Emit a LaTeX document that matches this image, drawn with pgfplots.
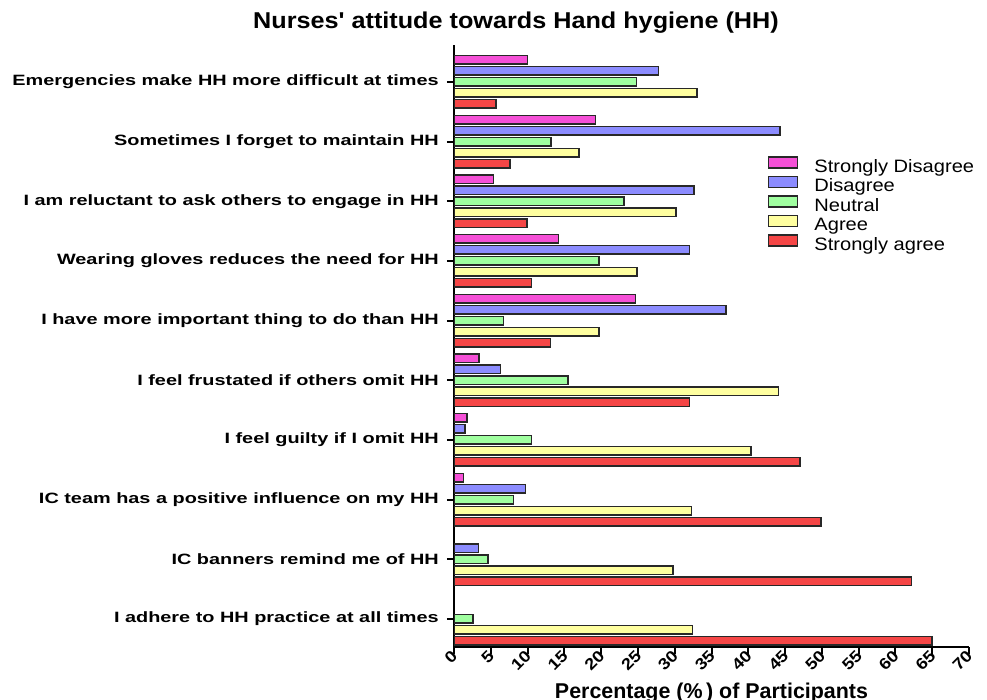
\documentclass[border=0pt]{standalone}
\usepackage{fontspec}
\setmainfont{Liberation Sans}
\newfontfamily\titlefont[FakeStretch=1.1]{Liberation Sans}
\newfontfamily\labfont[FakeStretch=1.33]{Liberation Sans}
\newfontfamily\numfont[FakeStretch=1.15]{Liberation Sans}
\newfontfamily\legfont[FakeStretch=1.12]{Liberation Sans}
\usepackage{pgfplots}
\pgfplotsset{compat=1.18}

\definecolor{sdis}{RGB}{245,80,215}
\definecolor{dis}{RGB}{140,140,255}
\definecolor{neu}{RGB}{160,255,160}
\definecolor{agr}{RGB}{255,255,160}
\definecolor{sagr}{RGB}{245,70,70}
\definecolor{edge}{RGB}{40,40,40}

\tikzset{
  hhbar/.style={draw=edge, line width=1.5bp, fill=#1},
}

\begin{document}
\begin{tikzpicture}
\useasboundingbox (0,0) rectangle (987bp,700bp);

\node[font=\titlefont\fontsize{23}{27}\selectfont\bfseries] at (516bp,677bp)
  {Nurses' attitude towards Hand hygiene (HH)};

\begin{axis}[
  at={(454bp,53bp)}, anchor=south west,
  scale only axis,
  width=515bp, height=602bp,
  xbar,
  xmin=0, xmax=70,
  ymin=-0.47, ymax=9.62,
  axis x line*=bottom,
  axis y line*=left,
  axis line style={-, line width=2bp, black},
  xtick pos=bottom, ytick pos=left,
  tick align=outside,
  major tick length=7bp,
  every tick/.style={black, line width=2bp},
  xtick style={draw=black, line width=2bp},
  ytick style={draw=black, line width=2bp},
  xtick distance=5,
  minor tick num=0,
  ytick={0,...,9},
  yticklabels={
    I adhere to HH practice at all times,
    IC banners remind me of HH,
    IC team has a positive influence on my HH,
    I feel guilty if I omit HH,
    I feel frustated if others omit HH,
    I have more important thing to do than HH,
    Wearing gloves reduces the need for HH,
    I am reluctant to ask others to engage in HH,
    Sometimes I forget to maintain HH,
    Emergencies make HH more difficult at times},
  yticklabel style={font=\labfont\fontsize{15}{18}\selectfont\bfseries,
    inner sep=2bp, xshift=-6bp},
  xticklabel style={font=\numfont\fontsize{16}{18}\selectfont\bfseries,
    rotate=45, anchor=east, inner sep=1bp, xshift=2bp},
  /pgf/number format/assume math mode=true,
  bar width=8.5bp,
  legend style={
    at={(0.6097,0.815)}, anchor=north west,
    draw=none, fill=none, inner sep=0pt, outer sep=0pt,
    row sep=0bp,
    nodes={inner sep=0pt, text height=11bp, text depth=3.5bp,
      font=\legfont\fontsize{18}{20}\selectfont},
    /tikz/every odd column/.append style={column sep=16bp},
  },
  legend cell align=left,
  legend image code/.code={\draw[#1] (0bp,0.5bp) rectangle (29bp,11.5bp);},
]
% Strongly Disagree
\addplot[hhbar=sdis, bar shift=22bp] coordinates {
  (10.0,9) (19.2,8) (5.4,7) (14.2,6) (24.7,5) (3.4,4) (1.8,3) (1.3,2)
};
% Disagree
\addplot[hhbar=dis, bar shift=11bp] coordinates {
  (27.8,9) (44.3,8) (32.6,7) (32.0,6) (37.0,5) (6.3,4) (1.5,3) (9.7,2) (3.35,1)
};
% Neutral
\addplot[hhbar=neu, bar shift=0bp] coordinates {
  (24.8,9) (13.2,8) (23.1,7) (19.7,6) (6.75,5) (15.5,4) (10.5,3) (8.1,2) (4.6,1) (2.6,0)
};
% Agree
\addplot[hhbar=agr, bar shift=-11bp] coordinates {
  (33.0,9) (17.0,8) (30.2,7) (24.9,6) (19.7,5) (44.1,4) (40.4,3) (32.3,2) (29.8,1) (32.4,0)
};
% Strongly agree
\addplot[hhbar=sagr, bar shift=-22bp] coordinates {
  (5.7,9) (7.6,8) (9.9,7) (10.5,6) (13.1,5) (32.0,4) (47.0,3) (49.9,2) (62.2,1) (65.0,0)
};
\legend{Strongly Disagree, Disagree, Neutral, Agree, Strongly agree}
\end{axis}

\node[font=\fontsize{21.5}{24}\selectfont\bfseries, anchor=base] at (711.5bp,2bp)
  {Percentage (\%\,) of Participants};
\end{tikzpicture}
\end{document}
